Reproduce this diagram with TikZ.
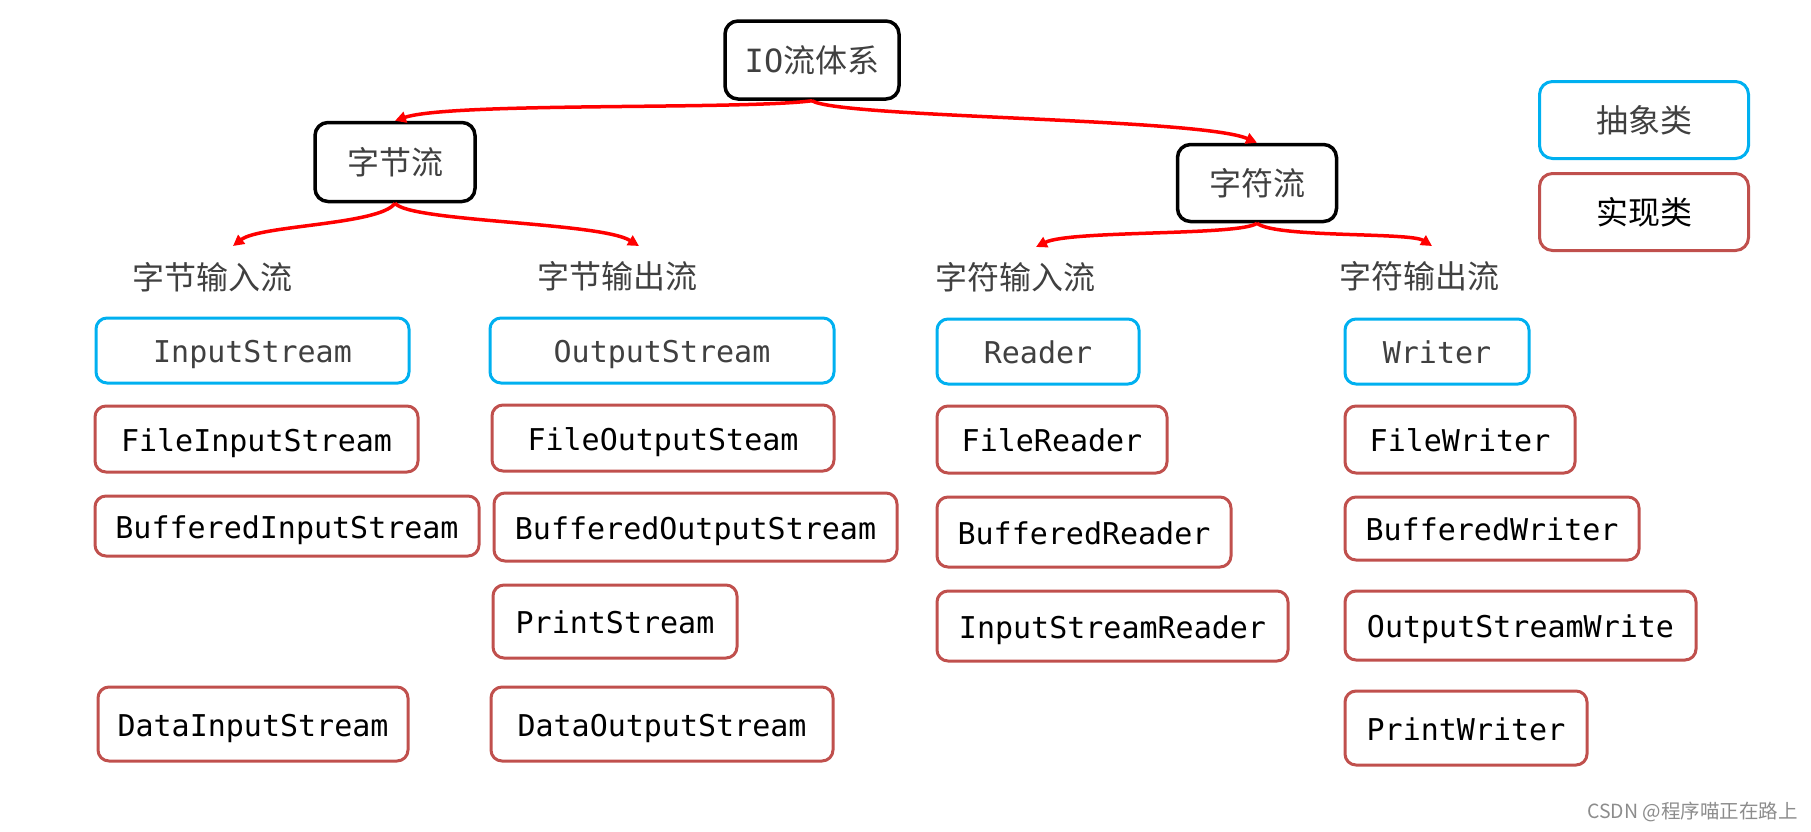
\documentclass[tikz,border=0pt]{standalone}
\usepackage{fontspec}
\setmainfont{Noto Sans CJK SC}
\newfontfamily\monof{DejaVu Sans Mono}
\usetikzlibrary{arrows.meta}
\definecolor{absblue}{HTML}{00B0F0}
\definecolor{implred}{HTML}{C0504D}
\definecolor{txtgray}{HTML}{404040}
\tikzset{
  topbox/.style={draw=black, line width=3.5pt, rounded corners=13pt, inner sep=0pt, text=txtgray, font=\fontsize{32}{38}\selectfont},
  codebox/.style={line width=3pt, rounded corners=11pt, inner sep=0pt, text height=24pt, text depth=0pt, font=\monof\fontsize{30}{34}\selectfont},
  absbox/.style={codebox, draw=absblue, text=txtgray},
  implbox/.style={codebox, draw=implred, text=black},
  catlabel/.style={inner sep=0pt, text=txtgray, font=\fontsize{32}{38}\selectfont},
  redarrow/.style={draw=red, line width=3.5pt, -{Triangle[length=11pt,width=11pt]}},
  bsz/.style 2 args={minimum width=#1pt, minimum height=#2pt},
}
\begin{document}
\begin{tikzpicture}[x=1pt,y=-1pt]
\useasboundingbox (0,0) rectangle (1811,831);
% top nodes
\node[topbox, bsz={174}{78}] (io) at (812,60) {{\monof IO}流体系};
\node[topbox, bsz={160}{79}] (zj) at (395,162) {字节流};
\node[topbox, bsz={159}{77}] (zf) at (1257,183) {字符流};
% legend
\node[topbox, draw=absblue, line width=3pt, bsz={209}{77}] (legabs) at (1644,120) {抽象类};
\node[topbox, draw=implred, line width=3pt, text=black, bsz={209}{77}] (legimpl) at (1644,212) {实现类};
% category labels
\node[catlabel] (zjin) at (212,277) {字节输入流};
\node[catlabel] (zjout) at (617,276) {字节输出流};
\node[catlabel] (zfin) at (1015,277) {字符输入流};
\node[catlabel] (zfout) at (1419,276) {字符输出流};
% column 1
\node[absbox, bsz={313}{65}] (is) at (252.5,350.5) {InputStream};
\node[implbox, bsz={323}{66}] (fis) at (256.5,439) {FileInputStream};
\node[implbox, bsz={384}{60}] (bis) at (287,526) {BufferedInputStream};
\node[implbox, bsz={310}{74}] (dis) at (253,724) {DataInputStream};
% column 2
\node[absbox, bsz={344}{65}] (os) at (662,350.5) {OutputStream};
\node[implbox, bsz={342}{66}] (fos) at (663,438) {FileOutputSteam};
\node[implbox, bsz={403}{68}] (bos) at (695.5,527) {BufferedOutputStream};
\node[implbox, bsz={244}{73}] (ps) at (615,621.5) {PrintStream};
\node[implbox, bsz={342}{74}] (dos) at (662,724) {DataOutputStream};
% column 3
\node[absbox, bsz={202}{65}] (rd) at (1038,351.5) {Reader};
\node[implbox, bsz={230}{67}] (frd) at (1052,439.5) {FileReader};
\node[implbox, bsz={294}{70}] (brd) at (1084,532) {BufferedReader};
\node[implbox, bsz={351}{70}] (isr) at (1112.5,626) {InputStreamReader};
% column 4
\node[absbox, bsz={184}{65}] (wr) at (1437,351.5) {Writer};
\node[implbox, bsz={230}{67}] (fwr) at (1460,439.5) {FileWriter};
\node[implbox, bsz={294}{63}] (bwr) at (1492,528.5) {BufferedWriter};
\node[implbox, bsz={351}{69}] (osw) at (1520.5,625.5) {OutputStreamWrite};
\node[implbox, bsz={242}{74}] (pw) at (1466,728) {PrintWriter};
% watermark
\node[inner sep=0pt, anchor=east, text=black!45, font=\fontsize{19.5}{22}\selectfont] (wm) at (1798,812) {CSDN @程序喵正在路上};
% connectors
\coordinate (zjinT) at (233,246);
\coordinate (zjoutT) at (639,246);
\coordinate (zfinT) at (1036,247);
\coordinate (zfoutT) at (1432,246);
\draw[redarrow] (io.south) .. controls (740,110) and (450,102) .. (zj.north);
\draw[redarrow] (io.south) .. controls (840,118) and (1200,118) .. (zf.north);
\draw[redarrow] (zj.south) .. controls (380,225) and (260,225) .. (zjinT);
\draw[redarrow] (zj.south) .. controls (410,222) and (600,222) .. (zjoutT);
\draw[redarrow] (zf.south) .. controls (1240,236) and (1070,230) .. (zfinT);
\draw[redarrow] (zf.south) .. controls (1275,238) and (1410,232) .. (zfoutT);
\end{tikzpicture}
\end{document}
